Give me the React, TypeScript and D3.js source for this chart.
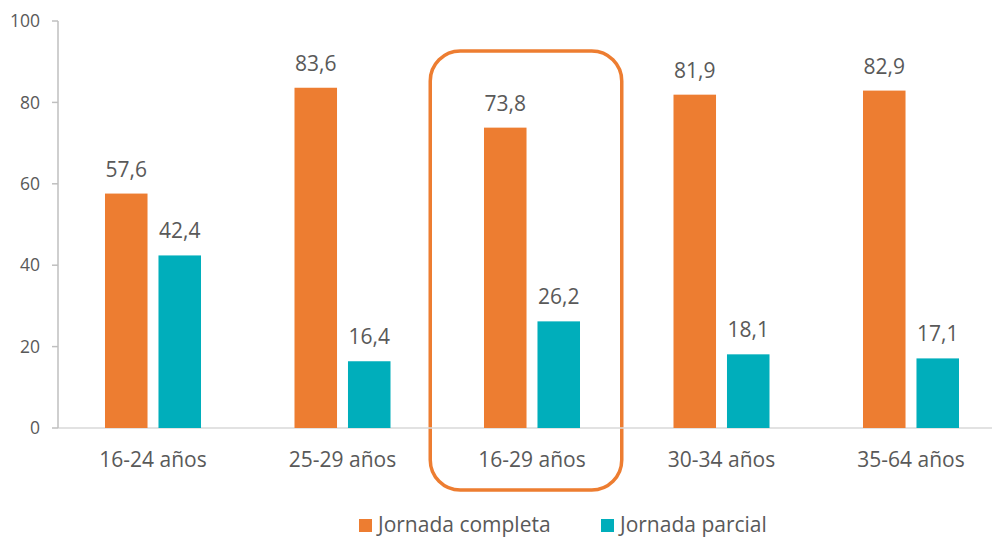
import React, { useEffect, useRef } from "react";
import * as d3 from "d3";

const categories = ["16-24 años", "25-29 años", "16-29 años", "30-34 años", "35-64 años"];
const seriesNames = ["Jornada completa", "Jornada parcial"];
const completa = [57.6, 83.6, 73.8, 81.9, 82.9];
const parcial = [42.4, 16.4, 26.2, 18.1, 17.1];
const yTicks = [0, 20, 40, 60, 80, 100];
const highlighted = "16-29 años";

const colors = ["#ED7D31", "#00AEBB"];
const textColor = "#595959";
const font = "'Open Sans', sans-serif";

export default function App() {
  const svgRef = useRef<SVGSVGElement>(null);

  useEffect(() => {
    const w = 992;
    const h = 539;
    const svg = d3.select(svgRef.current).attr("width", w).attr("height", h);
    svg.selectAll("*").remove();

    const y = d3.scaleLinear().domain([0, 100]).range([428, 21]);
    const x0 = d3.scaleBand().domain(categories).range([58.25, 1005.75]);
    const x1 = d3
      .scaleBand()
      .domain(seriesNames)
      .range([0, x0.bandwidth()])
      .paddingInner(0.205)
      .paddingOuter(0.874);

    const rows = categories.map((c, i) => ({ cat: c, values: [completa[i], parcial[i]] }));

    // highlight box
    const hx = x0(highlighted)!;
    svg
      .append("rect")
      .attr("x", hx - 7)
      .attr("y", 51)
      .attr("width", x0.bandwidth() + 2)
      .attr("height", 439)
      .attr("rx", 30)
      .attr("fill", "none")
      .attr("stroke", colors[0])
      .attr("stroke-width", 3.5);

    // baseline
    svg
      .append("line")
      .attr("x1", 58)
      .attr("x2", w)
      .attr("y1", y(0))
      .attr("y2", y(0))
      .attr("stroke", "#D9D9D9")
      .attr("stroke-width", 1.5);

    // y axis
    const yAxis = svg.append("g");
    yAxis
      .append("line")
      .attr("x1", 58)
      .attr("x2", 58)
      .attr("y1", y(100))
      .attr("y2", y(0))
      .attr("stroke", "#BFBFBF")
      .attr("stroke-width", 1.5);
    yAxis
      .selectAll("line.tick")
      .data(yTicks)
      .join("line")
      .attr("class", "tick")
      .attr("x1", 52)
      .attr("x2", 58)
      .attr("y1", (d) => y(d))
      .attr("y2", (d) => y(d))
      .attr("stroke", "#BFBFBF")
      .attr("stroke-width", 1.5);
    yAxis
      .selectAll("text")
      .data(yTicks)
      .join("text")
      .text((d) => d)
      .attr("x", 40)
      .attr("y", (d) => y(d))
      .attr("dy", "0.35em")
      .attr("text-anchor", "end")
      .attr("fill", textColor)
      .style("font-family", font)
      .style("font-size", "17.5px");

    // bars
    const groups = svg
      .selectAll("g.group")
      .data(rows)
      .join("g")
      .attr("class", "group")
      .attr("transform", (d) => `translate(${x0(d.cat)},0)`);

    groups
      .selectAll("rect")
      .data((d) => d.values.map((v, i) => ({ key: seriesNames[i], v, i })))
      .join("rect")
      .attr("x", (d) => x1(d.key)!)
      .attr("y", (d) => y(d.v))
      .attr("width", x1.bandwidth())
      .attr("height", (d) => y(0) - y(d.v))
      .attr("fill", (d) => colors[d.i]);

    groups
      .selectAll("text")
      .data((d) => d.values.map((v, i) => ({ key: seriesNames[i], v })))
      .join("text")
      .text((d) => d3.format(".1f")(d.v).replace(".", ","))
      .attr("x", (d) => x1(d.key)! + x1.bandwidth() / 2)
      .attr("y", (d) => y(d.v) - 17)
      .attr("text-anchor", "middle")
      .attr("fill", textColor)
      .style("font-family", font)
      .style("font-size", "21px");

    // category labels
    svg
      .selectAll("text.cat")
      .data(categories)
      .join("text")
      .attr("class", "cat")
      .text((d) => d)
      .attr("x", (d) => x0(d)! + x0.bandwidth() / 2)
      .attr("y", 467)
      .attr("text-anchor", "middle")
      .attr("fill", textColor)
      .style("font-family", font)
      .style("font-size", "21px");

    // legend
    const legendX = [359, 601];
    const legend = svg
      .selectAll("g.legend")
      .data(seriesNames)
      .join("g")
      .attr("class", "legend")
      .attr("transform", (_, i) => `translate(${legendX[i]},519)`);
    legend
      .append("rect")
      .attr("width", 13)
      .attr("height", 13)
      .attr("fill", (_, i) => colors[i]);
    legend
      .append("text")
      .text((d) => d)
      .attr("x", 19)
      .attr("y", 13)
      .attr("fill", textColor)
      .style("font-family", font)
      .style("font-size", "21px");
  }, []);

  return (
    <div style={{ position: "absolute", left: 0, top: 0, background: "#fff" }}>
      <svg ref={svgRef} style={{ display: "block" }}></svg>
    </div>
  );
}
